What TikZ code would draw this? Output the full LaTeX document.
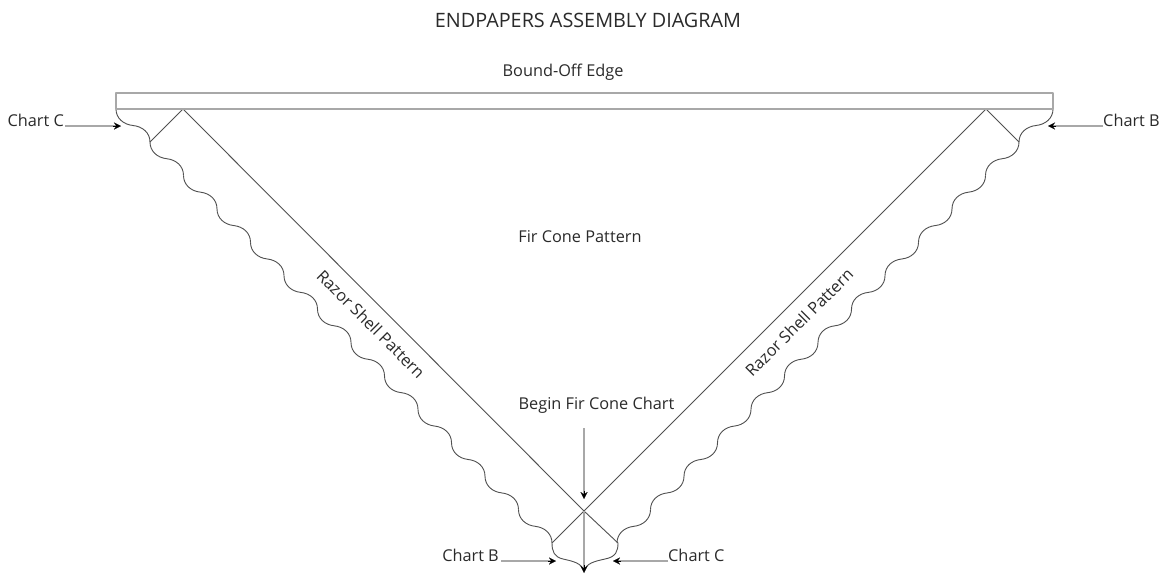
\documentclass[tikz,border=0pt]{standalone}
\usepackage{fontspec}
\setmainfont{Open Sans}
\usetikzlibrary{arrows.meta,calc}
\definecolor{ln}{HTML}{505050}
\definecolor{gl}{HTML}{A8A8A8}
\definecolor{tx}{HTML}{2A2A2A}
\tikzset{
  lbl/.style={font=\fontsize{16.3}{18}\selectfont,text=tx,inner sep=0pt},
  ttl/.style={font=\fontsize{19.8}{22}\selectfont,text=tx,inner sep=0pt},
  fine/.style={draw=ln,line width=0.9pt,line join=round},
  wavy/.style={draw=ln,line width=0.9pt,line join=round},
  band/.style={draw=gl,line width=1.8pt,line join=round},
  shaft/.style={draw=gl,line width=1.6pt},
  head/.style={draw=black,line width=0.1pt,-{Stealth[length=7pt,width=7pt]}},
}
% one scallop: start x, start y, direction, width, height
\newcommand{\scallop}[5]{%
  \draw[wavy] (#1,#2)
    .. controls ([shift={(0,0.28*#5)}]#1,#2) and ([shift={(#3*0.22*#4,0.47*#5)}]#1,#2)
    .. ([shift={(#3*0.5*#4,0.5*#5)}]#1,#2)
    .. controls ([shift={(#3*0.78*#4,0.53*#5)}]#1,#2) and ([shift={(#3*#4,0.72*#5)}]#1,#2)
    .. ([shift={(#3*#4,#5)}]#1,#2);%
}
\newcommand{\scallops}[3]{%
  \foreach \k in {0,...,11}{
    \pgfmathsetmacro{\px}{#1+#3*\k*33.5}
    \pgfmathsetmacro{\py}{#2+\k*33.42}
    \scallop{\px}{\py}{#3}{33.5}{33.42}
  }%
}
% grey shaft with a black head, between two named coordinates
\newcommand{\greyarrow}[2]{%
  \draw[shaft] (#1) -- ($(#2)!3pt!(#1)$);
  \draw[head] ($(#2)!8pt!(#1)$) -- (#2);%
}
\begin{document}
\begin{tikzpicture}[x=1pt,y=-1pt]
\useasboundingbox (0,0) rectangle (1166,573);
\fill[white] (0,0) rectangle (1166,573);
\node[ttl] (title) at (588,20) {ENDPAPERS ASSEMBLY DIAGRAM};
\node[lbl] (bound) at (563,72) {Bound-Off Edge};
\node[lbl] (fir) at (580,237) {Fir Cone Pattern};
\node[lbl,rotate=-45] (rl) at (371,324) {Razor Shell Pattern};
\node[lbl,rotate=45] (rr) at (799,322.5) {Razor Shell Pattern};
\node[lbl] (begin) at (596.5,405) {Begin Fir Cone Chart};
\node[lbl,anchor=east] (ctl) at (64,120) {Chart C};
\node[lbl,anchor=west] (ctr) at (1103,120) {Chart B};
\node[lbl,anchor=east] (cbl) at (499,555) {Chart B};
\node[lbl,anchor=west] (cbr) at (668,555) {Chart C};
\coordinate (tl) at (183,109);
\coordinate (tr) at (986,109);
\coordinate (ap) at (584,511);
\coordinate (wl) at (150,142);
\coordinate (wr) at (1019,142);
\coordinate (bl) at (552,543);
\coordinate (br) at (618,543);
\coordinate (tip) at (584,573);
\coordinate (rl0) at (116,93);
\coordinate (rl1) at (116,109);
\coordinate (rr0) at (1053,93);
\coordinate (rr1) at (1053,109);
\coordinate (a1s) at (65,126);   \coordinate (a1e) at (121,126);
\coordinate (a2s) at (1103,126); \coordinate (a2e) at (1048,126);
\coordinate (a3s) at (501,561);  \coordinate (a3e) at (556,561);
\coordinate (a4s) at (668,561);  \coordinate (a4e) at (613,561);
\coordinate (a5s) at (584,428);  \coordinate (a5e) at (584,499);
% wavy edges
\scallops{150}{142}{1}
\scallops{1019}{142}{-1}
\scallop{116}{109}{1}{34}{33}
\scallop{1053}{109}{-1}{34}{33}
\draw[wavy] (bl) .. controls (552,551) and (554,557) .. (563,559)
  .. controls (572,561) and (582,563) .. (584,571);
\draw[wavy] (br) .. controls (618,551) and (616,557) .. (605,559)
  .. controls (596,561) and (586,563) .. (584,571);
% V
\draw[fine] (wl) -- (tl) -- (ap) -- (bl);
\draw[fine] (wr) -- (tr) -- (ap) -- (br);
% band
\draw[band] (rl1) -- (rl0) -- (rr0) -- (rr1) -- cycle;
% arrows
\greyarrow{a1s}{a1e}
\greyarrow{a2s}{a2e}
\greyarrow{a3s}{a3e}
\greyarrow{a4s}{a4e}
\greyarrow{a5s}{a5e}
\greyarrow{ap}{tip}
\end{tikzpicture}
\end{document}
